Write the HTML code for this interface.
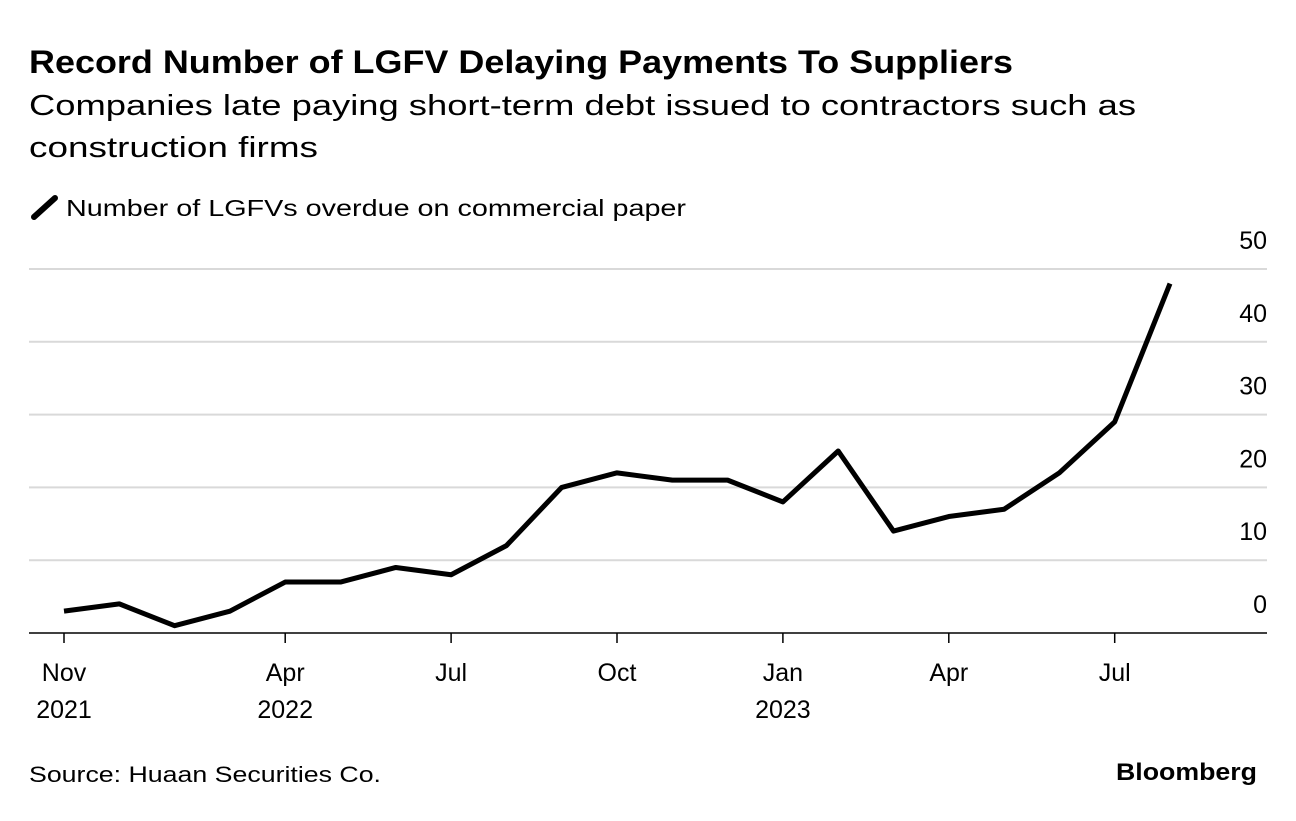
<!DOCTYPE html>
<html><head><meta charset="utf-8"><style>
body{margin:0;background:#fff;font-family:"Liberation Sans",sans-serif;}
svg text{font-family:"Liberation Sans",sans-serif;}
</style></head><body>
<svg width="1296" height="816" viewBox="0 0 1296 816">
<text x="29" y="73" font-size="32" font-weight="bold" fill="#000" textLength="984" lengthAdjust="spacingAndGlyphs">Record Number of LGFV Delaying Payments To Suppliers</text>
<text x="29" y="115" font-size="29" fill="#000" textLength="1107" lengthAdjust="spacingAndGlyphs">Companies late paying short-term debt issued to contractors such as</text>
<text x="29" y="157" font-size="29" fill="#000" textLength="289" lengthAdjust="spacingAndGlyphs">construction firms</text>
<line x1="34" y1="217" x2="55" y2="198" stroke="#000" stroke-width="6" stroke-linecap="round"/>
<text x="66" y="216" font-size="23" fill="#000" textLength="620" lengthAdjust="spacingAndGlyphs">Number of LGFVs overdue on commercial paper</text>
<g id="grid"></g><g id="ylab"></g><g id="xlab"></g>
<path id="line" fill="none" stroke="#000" stroke-width="5" stroke-linejoin="round"/>
<text x="29" y="782" font-size="22" fill="#000" textLength="352" lengthAdjust="spacingAndGlyphs">Source: Huaan Securities Co.</text>
<text x="1116" y="780" font-size="24" font-weight="bold" fill="#000" textLength="141" lengthAdjust="spacingAndGlyphs">Bloomberg</text>
</svg>
<script>
const values=[3,4,1,3,7,7,9,8,12,20,22,21,21,18,25,14,16,17,22,29,48];
const yTicks=[0,10,20,30,40,50];
const xTickIdx=[0,4,7,10,13,16,19];
const xTickLab1=["Nov","Apr","Jul","Oct","Jan","Apr","Jul"];
const xTickLab2=["2021","2022","","","2023","",""];
const NS="http://www.w3.org/2000/svg";
const x=i=>64+i*55.3;
const y=v=>633-v*7.28;
const grid=document.getElementById('grid'),yl=document.getElementById('ylab'),xl=document.getElementById('xlab');
yTicks.forEach(t=>{
  const l=document.createElementNS(NS,'line');
  l.setAttribute('x1',29);l.setAttribute('x2',1267);l.setAttribute('y1',y(t));l.setAttribute('y2',y(t));
  l.setAttribute('stroke',t===0?'#000':'#d9d9d9');l.setAttribute('stroke-width',t===0?1.5:2);
  
  
  grid.appendChild(l);
  const tx=document.createElementNS(NS,'text');
  tx.setAttribute('x',1267);tx.setAttribute('y',y(t)-20);tx.setAttribute('text-anchor','end');tx.setAttribute('font-size','25');
  tx.textContent=t;
  
  
  yl.appendChild(tx);
});
xTickIdx.forEach((idx,k)=>{
  const l=document.createElementNS(NS,'line');
  l.setAttribute('x1',x(idx));l.setAttribute('x2',x(idx));l.setAttribute('y1',633);l.setAttribute('y2',643);
  l.setAttribute('stroke','#000');l.setAttribute('stroke-width',1.5);
  
  
  xl.appendChild(l);
  [xTickLab1[k],xTickLab2[k]].forEach((s,j)=>{
    if(!s)return;
    const tx=document.createElementNS(NS,'text');
    tx.setAttribute('x',x(idx));tx.setAttribute('y',681+j*37);tx.setAttribute('text-anchor','middle');tx.setAttribute('font-size','25');
    tx.textContent=s;
    
    
    xl.appendChild(tx);
  });
});
document.getElementById('line').setAttribute('d',values.map((v,i)=>(i?'L':'M')+x(i)+','+y(v)).join(''));
</script>
</body></html>
